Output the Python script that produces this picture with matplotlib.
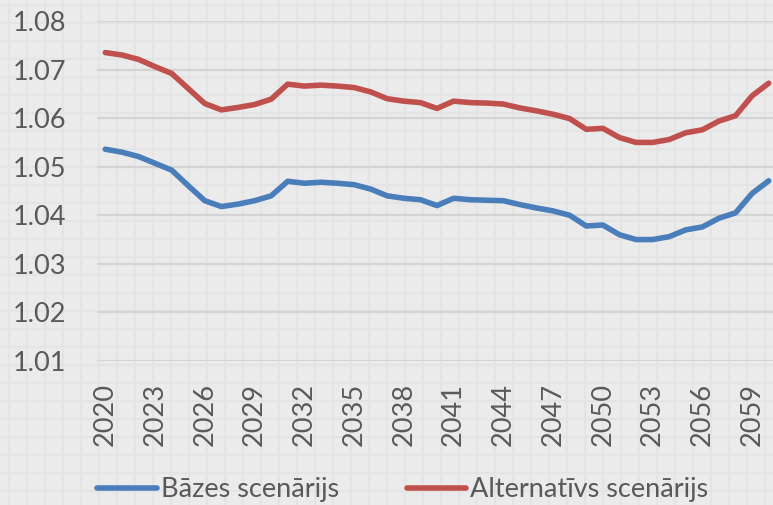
import matplotlib as mpl
mpl.use('Agg')
import numpy as np
import matplotlib.pyplot as plt

years = list(range(2020, 2061))
bazes = [1.0536, 1.0530, 1.0521, 1.0507, 1.0493, 1.0461, 1.0430, 1.0418, 1.0423, 1.0430,
         1.0440, 1.0470, 1.0466, 1.0468, 1.0466, 1.0463, 1.0454, 1.0440, 1.0435, 1.0432,
         1.0420, 1.0435, 1.0432, 1.0431, 1.0430, 1.0422, 1.0415, 1.0409, 1.0400, 1.0378,
         1.0380, 1.0360, 1.0350, 1.0350, 1.0356, 1.0370, 1.0376, 1.0394, 1.0405, 1.0445,
         1.0471]
alternativs = [1.0735, 1.0730, 1.0721, 1.0706, 1.0692, 1.0661, 1.0630, 1.0617, 1.0622, 1.0628,
               1.0639, 1.0670, 1.0666, 1.0668, 1.0666, 1.0663, 1.0654, 1.0640, 1.0635, 1.0632,
               1.0620, 1.0635, 1.0632, 1.0631, 1.0629, 1.0621, 1.0615, 1.0608, 1.0599, 1.0577,
               1.0579, 1.0560, 1.0550, 1.0550, 1.0556, 1.0570, 1.0576, 1.0594, 1.0605, 1.0646,
               1.0672]
labels = ['Bāzes scenārijs', 'Alternatīvs scenārijs']
colors = ['#4a7ebb', '#c0504d']

plt.rcParams['font.family'] = ['Lato', 'DejaVu Sans']
W, H = 773, 505
fig = plt.figure(figsize=(W / 100, H / 100), dpi=100, facecolor='#ebebeb')

# textured background (small grid pattern)
bg = fig.add_axes([0, 0, 1, 1], zorder=0)
bg.set_xlim(0, W)
bg.set_ylim(H, 0)
bg.set_facecolor('#ebebeb')
for x in np.arange(9, W, 18):
    bg.axvline(x, color='#e4e4e4', lw=1.5)
for y in np.arange(5, H, 18):
    bg.axhline(y, color='#e4e4e4', lw=1.5)
bg.axis('off')

ax = fig.add_axes([97 / W, 1 - 361 / H, 680 / W, 340 / H], zorder=1)
ax.patch.set_alpha(0)
x = np.arange(len(years))
ax.plot(x, bazes, color=colors[0], lw=4, solid_capstyle='round', label=labels[0])
ax.plot(x, alternativs, color=colors[1], lw=4, solid_capstyle='round', label=labels[1])

ax.set_xlim(-0.5, len(years) - 0.5)
ax.set_ylim(1.01, 1.08)
ax.set_yticks(np.arange(1.01, 1.0801, 0.01))
ax.set_yticklabels(['%.2f' % v for v in np.arange(1.01, 1.0801, 0.01)])
ax.set_xticks(x[::3])
ax.set_xticklabels([str(y) for y in years[::3]], rotation=90)
ax.tick_params(axis='y', length=0, pad=22, labelsize=19.5, labelcolor='#595959')
ax.tick_params(axis='x', length=0, pad=16, labelsize=19.5, labelcolor='#595959')
ax.grid(axis='y', color='#d4d4d4', lw=1.6)
ax.set_axisbelow(True)
for s in ax.spines.values():
    s.set_visible(False)

fig.legend(loc='center', bbox_to_anchor=(403 / W, 1 - 490 / H), ncol=2, frameon=False,
           fontsize=19.5, labelcolor='#595959', handlelength=2.2, handletextpad=0.15,
           columnspacing=2.5, borderpad=0)

fig.savefig('out.png', dpi=100, facecolor=fig.get_facecolor())
